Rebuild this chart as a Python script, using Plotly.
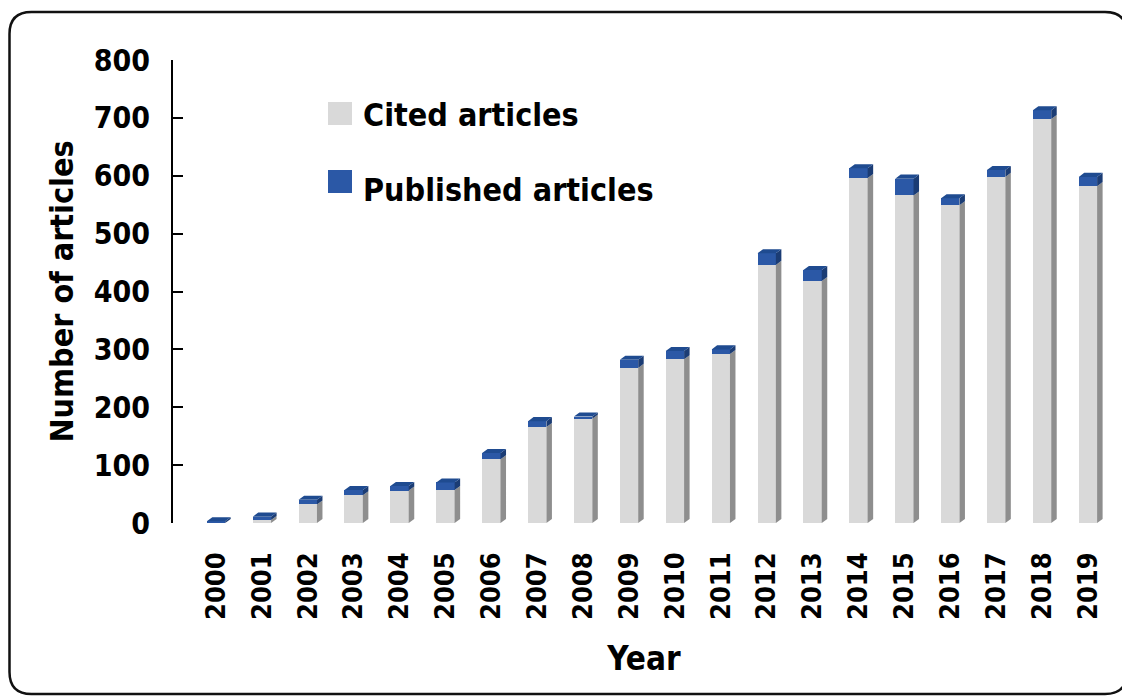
import plotly.graph_objects as go

years = [str(y) for y in range(2000, 2020)]
cited = [0, 5, 32, 48, 56, 57, 110, 166, 180, 268, 283, 292, 446, 418, 596, 566, 549, 598, 698, 582]
published = [3, 6, 8, 9, 8, 13, 11, 10, 4, 14, 14, 8, 20, 19, 17, 29, 12, 12, 15, 16]
y_ticks = [0, 100, 200, 300, 400, 500, 600, 700, 800]

FONT = "DejaVu Sans Condensed, DejaVu Sans, sans-serif"
GRAY_FRONT = "#d9d9d9"
GRAY_SIDE = "#8e8e8e"
BLUE_FRONT = "#2b58a6"
BLUE_TOP = "#1f4b90"
BLUE_SIDE = "#1b3c74"

W = 0.4      # front face width (category units)
DX = 0.12    # depth offset x
DY = 7       # depth offset y (data units)

xs = list(range(len(years)))

# build 3D side/top polygons from the data
gs_x, gs_y, bs_x, bs_y, bt_x, bt_y = [], [], [], [], [], []
for i, c, p in zip(xs, cited, published):
    t = c + p
    x0, x1 = i - W / 2, i + W / 2
    if c > 0:
        gs_x += [x1, x1 + DX, x1 + DX, x1, x1, None]
        gs_y += [0, DY, c + DY, c, 0, None]
    bs_x += [x1, x1 + DX, x1 + DX, x1, x1, None]
    bs_y += [c, c + DY, t + DY, t, c, None]
    bt_x += [x0, x0 + DX, x1 + DX, x1, x0, None]
    bt_y += [t, t + DY, t + DY, t, t, None]

fig = go.Figure()
fig.add_trace(go.Scatter(x=gs_x, y=gs_y, mode="lines", fill="toself", fillcolor=GRAY_SIDE,
                         line=dict(width=0), showlegend=False, hoverinfo="skip"))
fig.add_trace(go.Scatter(x=bs_x, y=bs_y, mode="lines", fill="toself", fillcolor=BLUE_SIDE,
                         line=dict(width=0), showlegend=False, hoverinfo="skip"))
fig.add_trace(go.Scatter(x=bt_x, y=bt_y, mode="lines", fill="toself", fillcolor=BLUE_TOP,
                         line=dict(width=0), showlegend=False, hoverinfo="skip"))
fig.add_trace(go.Bar(x=xs, y=cited, width=W, name="Cited articles",
                     marker=dict(color=GRAY_FRONT, line=dict(width=0)), showlegend=False))
fig.add_trace(go.Bar(x=xs, y=published, width=W, name="Published articles",
                     marker=dict(color=BLUE_FRONT, line=dict(width=0)), showlegend=False))

# layout geometry (figure pixels; page has an 8px body margin)
OFF = 8
WIDTH, HEIGHT = 1122, 689
L, T = 173 - OFF, 60 - OFF
R = WIDTH - (1115 - OFF)
B = HEIGHT - (523 - OFF)
PW, PH = WIDTH - L - R, HEIGHT - T - B

def px(x):
    """page pixel x -> paper fraction"""
    return (x - OFF - L) / PW

def py(y):
    """page pixel y -> paper fraction"""
    return (T + PH - (y - OFF)) / PH

shapes = []
# legend squares
shapes.append(dict(type="rect", xref="paper", yref="paper", x0=px(328), x1=px(352), y0=py(125), y1=py(102),
                   fillcolor=GRAY_FRONT, line=dict(width=0)))
shapes.append(dict(type="rect", xref="paper", yref="paper", x0=px(328), x1=px(352), y0=py(193), y1=py(170),
                   fillcolor=BLUE_FRONT, line=dict(width=0)))

# rounded outer border
bx0, by0, bx1, by1, rr = 9.5, 12, 1127, 694, 22
def P(x, y):
    return f"{px(x):.5f},{py(y):.5f}"
path = (f"M {P(bx0 + rr, by0)} L {P(bx1 - rr, by0)} Q {P(bx1, by0)} {P(bx1, by0 + rr)} "
        f"L {P(bx1, by1 - rr)} Q {P(bx1, by1)} {P(bx1 - rr, by1)} "
        f"L {P(bx0 + rr, by1)} Q {P(bx0, by1)} {P(bx0, by1 - rr)} "
        f"L {P(bx0, by0 + rr)} Q {P(bx0, by0)} {P(bx0 + rr, by0)} Z")
shapes.append(dict(type="path", xref="paper", yref="paper", path=path,
                   line=dict(color="#111111", width=2.5), fillcolor="rgba(0,0,0,0)", layer="below"))

annotations = [
    dict(text="Cited articles", xref="paper", yref="paper", x=px(361), y=py(115),
         xanchor="left", yanchor="middle", showarrow=False,
         font=dict(family=FONT, size=32, color="#000000", weight="bold")),
    dict(text="Published articles", xref="paper", yref="paper", x=px(361), y=py(190),
         xanchor="left", yanchor="middle", showarrow=False,
         font=dict(family=FONT, size=32, color="#000000", weight="bold")),
]

fig.update_layout(
    width=WIDTH, height=HEIGHT,
    margin=dict(l=L, r=R, t=T, b=B, pad=0),
    paper_bgcolor="white", plot_bgcolor="white",
    barmode="stack", bargap=0,
    shapes=shapes, annotations=annotations,
    showlegend=False,
    font=dict(family=FONT, color="#000000"),
)
fig.update_xaxes(
    range=[-0.937, 19.59], tickmode="array", tickvals=xs, ticktext=years,
    tickangle=-90, showline=False, showgrid=False, zeroline=False, ticks="",
    tickfont=dict(family=FONT, size=27, color="#000000", weight="bold"),
    ticklabelstandoff=23,
    title=dict(text="Year", font=dict(family=FONT, size=33, color="#000000", weight="bold"), standoff=27),
)
fig.update_yaxes(
    range=[0, 800], tickmode="array", tickvals=y_ticks,
    showline=True, linecolor="#000000", linewidth=2,
    ticks="inside", ticklen=10, tickwidth=2, tickcolor="#000000",
    showgrid=False, zeroline=False,
    tickfont=dict(family=FONT, size=30, color="#000000", weight="bold"),
    ticklabelstandoff=15,
    title=dict(text="Number of articles", font=dict(family=FONT, size=32, color="#000000", weight="bold"),
               standoff=10),
)

fig.write_html("out.html")
